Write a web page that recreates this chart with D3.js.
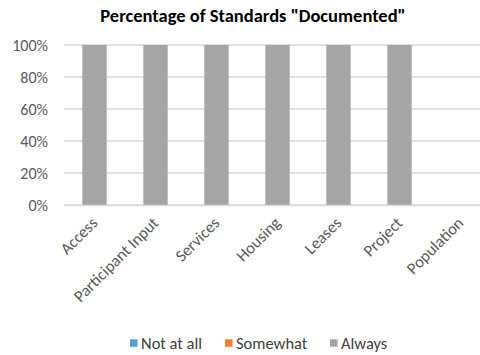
<!DOCTYPE html>
<html><head><meta charset="utf-8">
<script src="https://cdn.jsdelivr.net/npm/d3@7"></script>
<style>body{margin:0;background:#fff}svg{display:block}</style>
</head><body>
<script>
const categories = ["Access","Participant Input","Services","Housing","Leases","Project","Population"];
const notAtAll = [0,0,0,0,0,0,0];
const somewhat = [0,0,0,0,0,0,0];
const always = [100,100,100,100,100,100,0];
const seriesNames = ["Not at all","Somewhat","Always"];
const seriesColors = ["#5B9BD5","#ED7D31","#A5A5A5"];
const yTicks = [0,20,40,60,80,100];

const W=480,H=355;
const svg=d3.select("body").append("svg").attr("width",W).attr("height",H);
const font="Carlito, Calibri, 'Liberation Sans', Arial, sans-serif";

const x=d3.scaleBand().domain(categories).range([64,491]).paddingInner(0.6).paddingOuter(0.3);
const y=d3.scaleLinear().domain([0,100]).range([205,45]);

svg.append("text").attr("x",253).attr("y",22).attr("text-anchor","middle")
  .attr("font-family",font).attr("font-weight","bold").attr("font-size",18.5).attr("fill","#000")
  .text('Percentage of Standards "Documented"');

// gridlines
svg.append("g").selectAll("line").data(yTicks).join("line")
  .attr("x1",64).attr("x2",W).attr("y1",d=>y(d)).attr("y2",d=>y(d))
  .attr("stroke","#D9D9D9").attr("stroke-width",1.3);

// y axis
const yAxis=svg.append("g").attr("transform","translate(64,0)")
  .call(d3.axisLeft(y).tickValues(yTicks).tickFormat(d=>d+"%").tickSize(0).tickPadding(16));
yAxis.select(".domain").remove();
yAxis.selectAll("text").attr("font-family",font).attr("font-size",16).attr("fill","#595959");

// stacked data
const rows=categories.map((c,i)=>({cat:c,"Not at all":notAtAll[i],"Somewhat":somewhat[i],"Always":always[i]}));
const stack=d3.stack().keys(seriesNames)(rows);
const color=d3.scaleOrdinal().domain(seriesNames).range(seriesColors);
svg.append("g").selectAll("g").data(stack).join("g").attr("fill",d=>color(d.key))
  .selectAll("rect").data(d=>d).join("rect")
  .attr("x",d=>x(d.data.cat)).attr("width",x.bandwidth())
  .attr("y",d=>y(d[1])).attr("height",d=>y(d[0])-y(d[1]));

// x axis
const xAxis=svg.append("g").attr("transform","translate(0,205)")
  .call(d3.axisBottom(x).tickSize(0));
xAxis.select(".domain").attr("stroke","#D9D9D9").attr("stroke-width",1.3);
xAxis.selectAll("text").attr("font-family",font).attr("font-size",16.5).attr("fill","#595959")
  .attr("text-anchor","end").attr("x",0).attr("y",0).attr("dy",0)
  .attr("transform","translate(4,19) rotate(-45)");

// legend
const lx=[130,225,330];
const lg=svg.append("g").selectAll("g").data(seriesNames).join("g")
  .attr("transform",(d,i)=>`translate(${lx[i]},343)`);
lg.append("rect").attr("x",0).attr("y",-3.75).attr("width",7.5).attr("height",7.5).attr("fill",d=>color(d));
lg.append("text").attr("x",11).attr("y",0).attr("dy","0.35em").attr("font-family",font)
  .attr("font-size",16.5).attr("fill","#404040").text(d=>d);
</script>
</body></html>
